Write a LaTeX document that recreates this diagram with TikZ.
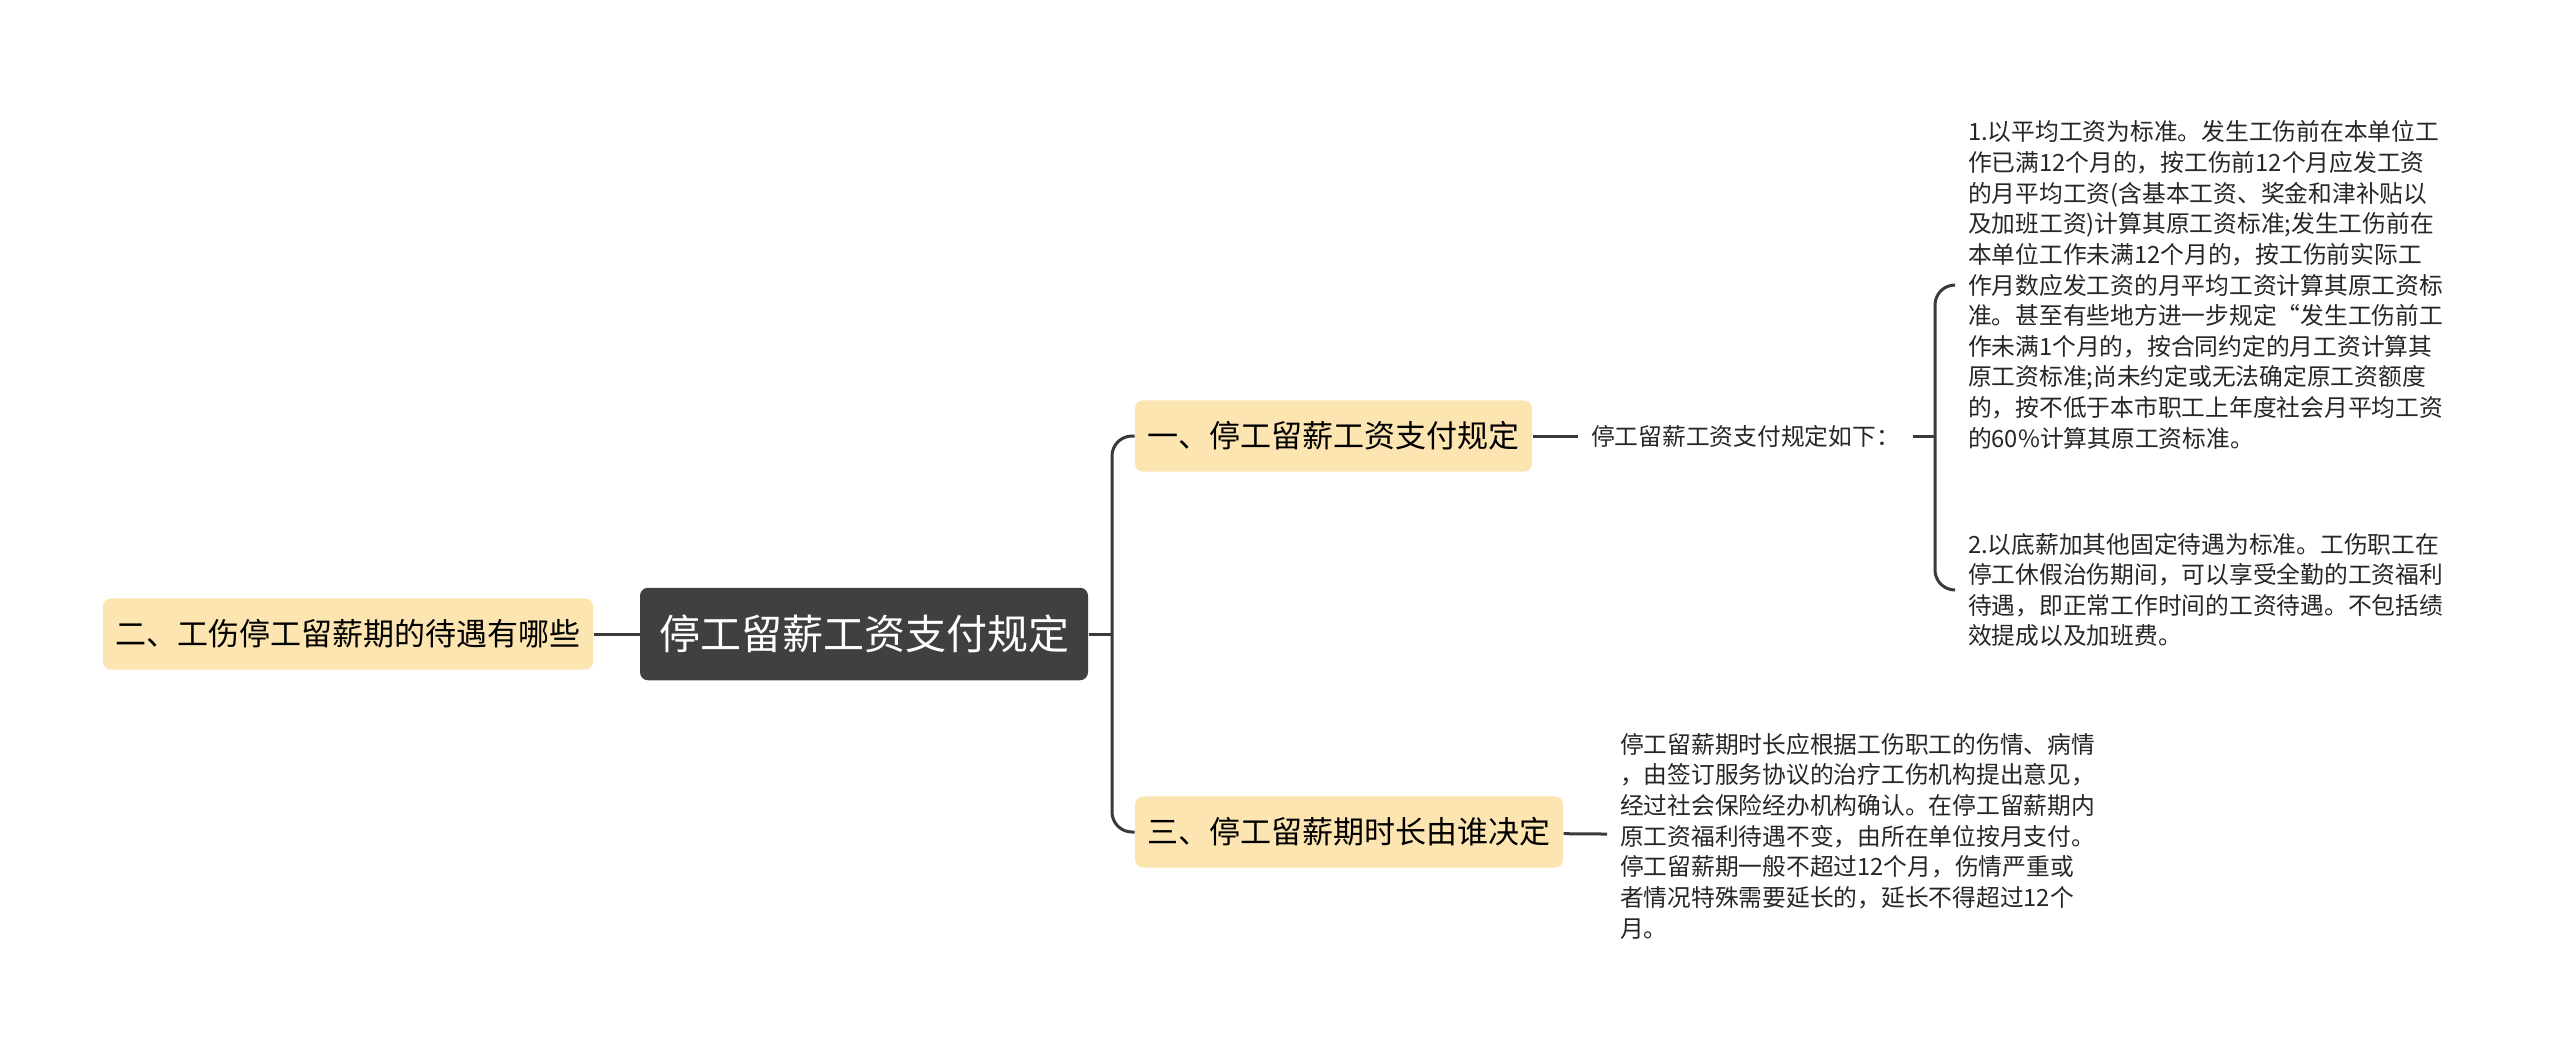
\documentclass[tikz,border=0pt]{standalone}
\usepackage{fontspec}
\setmainfont{Noto Sans CJK SC}
\usepackage{tikz}
\definecolor{rootgray}{HTML}{404040}
\definecolor{topicyellow}{HTML}{FCE5B1}
\definecolor{linegray}{HTML}{3A3A3A}

\begin{document}
\begin{tikzpicture}[x=0.4pt,y=-0.4pt]
\tikzstyle{root}=[fill=rootgray,text=white,rounded corners=3.2pt,inner xsep=7.6pt,minimum height=37pt,font=\fontsize{16.4}{20}\selectfont]
\tikzstyle{topic}=[fill=topicyellow,text=black,rounded corners=3.2pt,inner xsep=5pt,minimum height=28.5pt,font=\fontsize{12.4}{15}\selectfont]
\tikzstyle{leaf}=[align=left,inner xsep=5pt,inner ysep=0pt,text=black!85,font=\fontsize{9.5}{12.25}\selectfont]
\tikzstyle{conn}=[draw=linegray,line width=1.2pt]
\useasboundingbox (0,0) rectangle (2560,1055);
\node [root] (pay) at (864,634) {停工留薪工资支付规定};
\node [topic] (treat) at (348,634) {二、工伤停工留薪期的待遇有哪些};
\node [topic] (rule) at (1333.5,436) {一、停工留薪工资支付规定};
\node [topic] (term) at (1349,832) {三、停工留薪期时长由谁决定};
\node [leaf,anchor=west] (ruleintro) at (1578,436) {停工留薪工资支付规定如下：};
\node [leaf,anchor=west] (avg) at (1955,285) {1.以平均工资为标准。发生工伤前在本单位工\\
作已满12个月的，按工伤前12个月应发工资\\
的月平均工资(含基本工资、奖金和津补贴以\\
及加班工资)计算其原工资标准;发生工伤前在\\
本单位工作未满12个月的，按工伤前实际工\\
作月数应发工资的月平均工资计算其原工资标\\
准。甚至有些地方进一步规定“发生工伤前工\\
作未满1个月的，按合同约定的月工资计算其\\
原工资标准;尚未约定或无法确定原工资额度\\
的，按不低于本市职工上年度社会月平均工资\\
的60\%计算其原工资标准。};
\node [leaf,anchor=west] (base) at (1955,590) {2.以底薪加其他固定待遇为标准。工伤职工在\\
停工休假治伤期间，可以享受全勤的工资福利\\
待遇，即正常工作时间的工资待遇。不包括绩\\
效提成以及加班费。};
\node [leaf,anchor=west] (termtext) at (1607,836) {停工留薪期时长应根据工伤职工的伤情、病情\\
，由签订服务协议的治疗工伤机构提出意见，\\
经过社会保险经办机构确认。在停工留薪期内\\
原工资福利待遇不变，由所在单位按月支付。\\
停工留薪期一般不超过12个月，伤情严重或\\
者情况特殊需要延长的，延长不得超过12个\\
月。};
\coordinate (fork) at (1112,634);
\coordinate (bracket) at (1935,436);
\path[conn]
    (treat) edge (pay)
    (pay.east) edge (fork)
    (rule) edge (ruleintro)
    (term) edge (termtext)
    (ruleintro.east) edge (bracket);
\draw[conn,rounded corners=8pt] (fork) |- (rule.west);
\draw[conn,rounded corners=8pt] (fork) |- (term.west);
\draw[conn,rounded corners=8pt] (bracket) |- (avg.west);
\draw[conn,rounded corners=8pt] (bracket) |- (base.west);
\end{tikzpicture}
\end{document}
